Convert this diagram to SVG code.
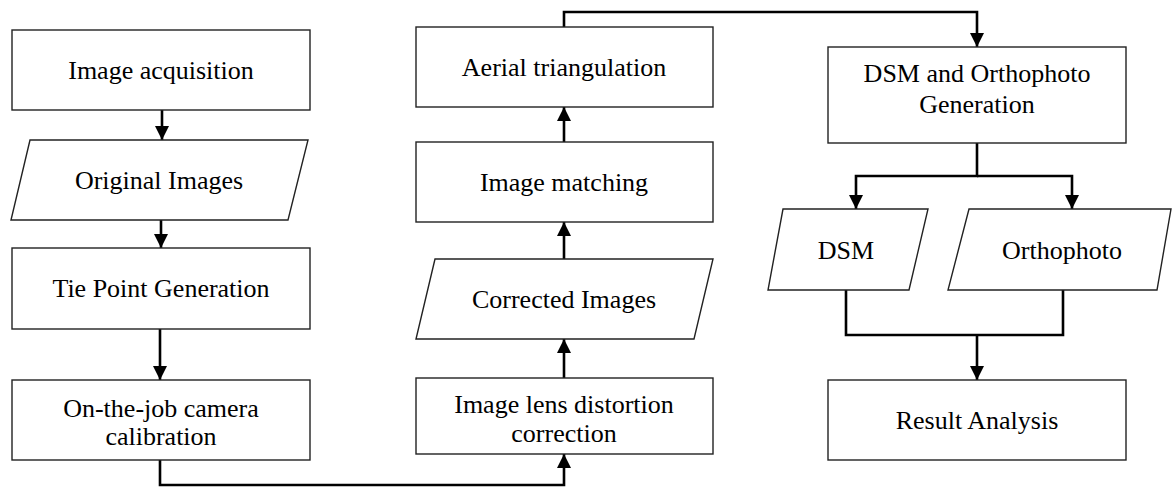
<svg xmlns="http://www.w3.org/2000/svg" width="1172" height="487" viewBox="0 0 1172 487" font-family="Liberation Serif, Times New Roman, Tinos, DejaVu Serif, serif">
<style>
.box{fill:#fff;stroke:#222;stroke-width:1.4}
.t{font-size:26px;fill:#000;text-anchor:middle}
.c{fill:none;stroke:#000;stroke-width:2.6}
</style>
<defs>
<marker id="ah" markerUnits="userSpaceOnUse" markerWidth="16" markerHeight="16" viewBox="0 0 16 16" refX="15" refY="8" orient="auto">
<path d="M1,1 L15,8 L1,15 Z" fill="#000"/>
</marker>
</defs>
<rect width="1172" height="487" fill="#fff"/>
<g id="connectors">
<path class="c" d="M162,110 V140" marker-end="url(#ah)"/>
<path class="c" d="M161,220 V248" marker-end="url(#ah)"/>
<path class="c" d="M160,329 V380" marker-end="url(#ah)"/>
<path class="c" d="M160,460 V485 H564 V454" marker-end="url(#ah)"/>
<path class="c" d="M564,378 V339" marker-end="url(#ah)"/>
<path class="c" d="M564,259 V222" marker-end="url(#ah)"/>
<path class="c" d="M564,142 V107" marker-end="url(#ah)"/>
<path class="c" d="M564,27 V12 H977 V47" marker-end="url(#ah)"/>
<path class="c" d="M977,143 V176 H856 V209" marker-end="url(#ah)"/>
<path class="c" d="M977,176 H1072 V209" marker-end="url(#ah)"/>
<path class="c" d="M846,290 V335 H1063 V290"/>
<path class="c" d="M977,335 V380" marker-end="url(#ah)"/>
</g>
<g id="image-acquisition">
<rect class="box" x="12" y="30" width="298" height="80"/>
<text class="t" font-family="Liberation Serif, serif" x="161" y="79">Image acquisition</text>
</g>
<g id="original-images">
<polygon class="box" points="30,140 308,140 288,220 11,220"/>
<text class="t" x="159" y="189">Original Images</text>
</g>
<g id="tie-point-generation">
<rect class="box" x="12" y="248" width="298" height="81"/>
<text class="t" x="161" y="297">Tie Point Generation</text>
</g>
<g id="camera-calibration">
<rect class="box" x="12" y="380" width="298" height="80"/>
<text class="t" x="161" y="417">On-the-job camera</text>
<text class="t" x="161" y="445">calibration</text>
</g>
<g id="lens-distortion-correction">
<rect class="box" x="416" y="378" width="297" height="76"/>
<text class="t" x="564" y="413">Image lens distortion</text>
<text class="t" x="564" y="442">correction</text>
</g>
<g id="corrected-images">
<polygon class="box" points="435,259 713,259 694,339 416,339"/>
<text class="t" x="564" y="308">Corrected Images</text>
</g>
<g id="image-matching">
<rect class="box" x="416" y="142" width="297" height="80"/>
<text class="t" x="564" y="191">Image matching</text>
</g>
<g id="aerial-triangulation">
<rect class="box" x="416" y="27" width="297" height="80"/>
<text class="t" x="564" y="76">Aerial triangulation</text>
</g>
<g id="dsm-orthophoto-generation">
<rect class="box" x="828" y="47" width="298" height="96"/>
<text class="t" x="977" y="82">DSM and Orthophoto</text>
<text class="t" x="977" y="113">Generation</text>
</g>
<g id="dsm">
<polygon class="box" points="783,209 928,209 909,290 768,290"/>
<text class="t" x="846" y="259">DSM</text>
</g>
<g id="orthophoto">
<polygon class="box" points="969,209 1171,209 1157,290 948,290"/>
<text class="t" x="1062" y="259">Orthophoto</text>
</g>
<g id="result-analysis">
<rect class="box" x="828" y="380" width="298" height="80"/>
<text class="t" x="977" y="429">Result Analysis</text>
</g>
</svg>
